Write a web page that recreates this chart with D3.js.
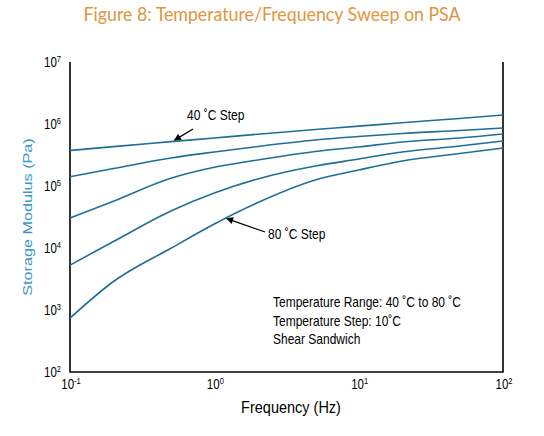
<!DOCTYPE html>
<html>
<head>
<meta charset="utf-8" />
<title>Temperature/Frequency Sweep on PSA</title>
<script src="https://d3js.org/d3.v7.min.js"></script>
<style>
    body { margin: 0; background: #fff; }
    svg { display: block; }
    text { font-family: "Liberation Sans", Arial, sans-serif; fill: #000; }
    .curve { fill: none; stroke: #1f6e98; stroke-width: 1.6px; }
    .frame { stroke: #000; stroke-width: 1.6px; fill: none; }
</style>
</head>
<body>
<svg width="544" height="436"></svg>
<script>
// frequency (Hz) and storage modulus (Pa)
var freq = [0.1, 0.2, 0.5, 1, 2, 5, 10, 20, 50, 100];
var g40 = [3.74e5, 4.32e5, 5.19e5, 5.96e5, 6.84e5, 8.13e5, 9.23e5, 1.05e6, 1.23e6, 1.40e6];
var g50 = [1.41e5, 1.91e5, 2.83e5, 3.53e5, 4.34e5, 5.52e5, 6.28e5, 7.03e5, 7.86e5, 8.61e5];
var g60 = [3.05e4, 5.7e4, 1.33e5, 2.0e5, 2.63e5, 3.6e5, 4.26e5, 5.13e5, 5.95e5, 6.9e5];
var g70 = [5.3e3, 1.27e4, 3.95e4, 7.7e4, 1.30e5, 2.10e5, 2.72e5, 3.53e5, 4.42e5, 5.32e5];
var g80 = [740, 2.88e3, 9.9e3, 2.44e4, 5.4e4, 1.25e5, 1.81e5, 2.53e5, 3.34e5, 4.1e5];
var series = [g40, g50, g60, g70, g80];

var xTicks = [0.1, 1, 10, 100];
var xExp = ['-1', '0', '1', '2'];
var yTicks = [1e2, 1e3, 1e4, 1e5, 1e6, 1e7];
var yExp = ['2', '3', '4', '5', '6', '7'];
var notes = ['Temperature Range: 40 \u02daC to 80 \u02daC', 'Temperature Step: 10\u02daC', 'Shear Sandwich'];

var plotL = 70, plotR = 503, plotT = 62, plotB = 372;
var sy = 1.2; // the picture's text is a little stretched vertically

var svg = d3.select('svg');

var x = d3.scaleLog().domain([0.1, 100]).range([plotL, plotR]);
var y = d3.scaleLog().domain([1e2, 1e7]).range([plotB, plotT]);

// helper: a text placed at (px, py) and stretched vertically
function label(px, py, str, size, anchor) {
    return svg.append('text')
        .attr('transform', 'translate(' + px + ',' + py + ') scale(1,' + sy + ')')
        .attr('text-anchor', anchor || 'start')
        .style('font-size', size + 'px')
        .text(str);
}

// title
svg.append('text')
    .attr('transform', 'translate(272,21) scale(1,1.1)')
    .attr('text-anchor', 'middle')
    .attr('textLength', 377)
    .attr('lengthAdjust', 'spacingAndGlyphs')
    .style('font-family', 'Lato, "Noto Sans", sans-serif')
    .style('font-size', '18px')
    .style('fill', '#e0963c')
    .text('Figure 8: Temperature/Frequency Sweep on PSA');

// frame: left, bottom, right (no top line)
svg.append('path')
    .attr('class', 'frame')
    .attr('d', 'M' + x(0.1) + ',' + y(1e7) + 'V' + y(1e2) + 'H' + x(100) + 'V' + y(1e7));

// curves
var line = d3.line()
    .x(function(d) { return x(d[0]); })
    .y(function(d) { return y(d[1]); })
    .curve(d3.curveMonotoneX);

svg.selectAll('path.curve')
    .data(series)
    .enter()
    .append('path')
    .attr('class', 'curve')
    .attr('d', function(s) {
        return line(freq.map(function(f, i) { return [f, s[i]]; }));
    });

// tick labels
yTicks.forEach(function(v, i) {
    var t = label(plotL - 9, y(v) + 4.5, '', 11.5, 'end');
    t.append('tspan').text('10');
    t.append('tspan').attr('dy', -4).style('font-size', '7.5px').text(yExp[i]);
});
xTicks.forEach(function(v, i) {
    var t = label(x(v) + 1, plotB + 17, '', 11.5, 'middle');
    t.append('tspan').text('10');
    t.append('tspan').attr('dy', -4).style('font-size', '7.5px').text(xExp[i]);
});

// axis titles
label(291, 413, 'Frequency (Hz)', 14.5, 'middle');
svg.append('text')
    .attr('transform', 'translate(32,217) rotate(-90) scale(1.2,1)')
    .attr('text-anchor', 'middle')
    .style('font-size', '13.5px')
    .style('fill', '#3a97cc')
    .text('Storage Modulus (Pa)');

// annotations with arrows
svg.append('defs').append('marker')
    .attr('id', 'head')
    .attr('viewBox', '0 0 10 10')
    .attr('refX', 9).attr('refY', 5)
    .attr('markerWidth', 9).attr('markerHeight', 7)
    .attr('markerUnits', 'userSpaceOnUse')
    .attr('orient', 'auto')
    .append('path').attr('d', 'M0,0L10,5L0,10Z').attr('fill', '#000');

function arrow(x1, y1, f, v) {
    svg.append('line')
        .attr('x1', x1).attr('y1', y1)
        .attr('x2', x(f)).attr('y2', y(v) - (y1 < y(v) ? 1 : -1))
        .attr('stroke', '#000').attr('stroke-width', 1.3)
        .attr('marker-end', 'url(#head)');
}
arrow(193, 129, 0.53, 5.3e5);
label(187, 120, '40 \u02daC Step', 12, 'start');
arrow(265, 232, 1.22, 3.1e4);
label(268, 239, '80 \u02daC Step', 12, 'start');

// notes
notes.forEach(function(n, i) {
    label(273, 307 + i * 18.5, n, 12, 'start');
});
</script>
</body>
</html>
